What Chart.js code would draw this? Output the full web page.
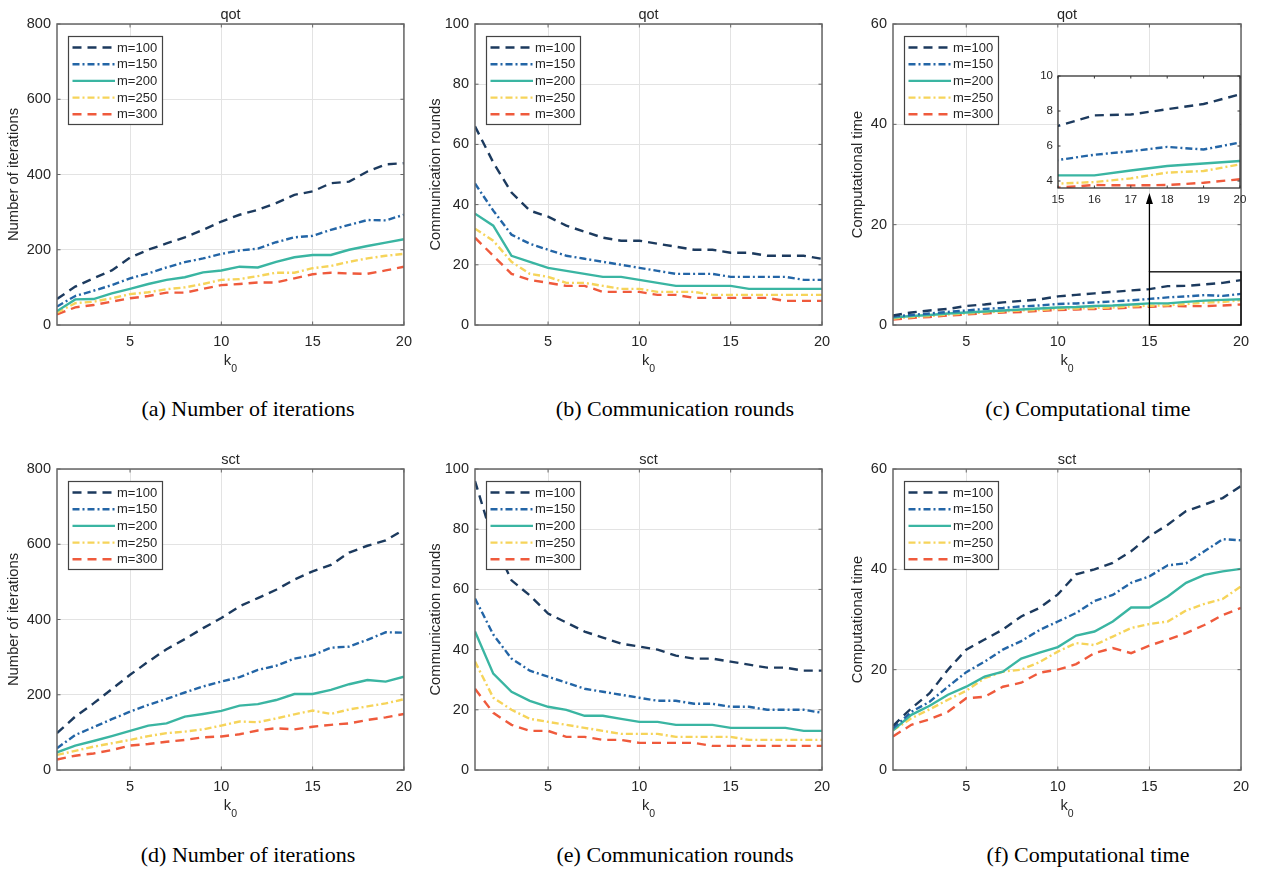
<!DOCTYPE html>
<html lang="en">
<head>
<meta charset="UTF-8" />
<title>k0 sweep: qot / sct</title>
<script src="https://cdn.jsdelivr.net/npm/chart.js"></script>
<style>
  html, body { margin: 0; padding: 0; background: #fff; }
  body { width: 1264px; height: 877px; position: relative; overflow: hidden; }
  .panel { position: absolute; }
  .caption {
    position: absolute;
    font-family: "Liberation Serif", "Times New Roman", serif;
    font-size: 22px;
    line-height: 1;
    color: #000;
    white-space: nowrap;
    transform: translateX(-50%);
  }
</style>
</head>
<body>
<div class="panel" style="left:0;top:0;width:420px;height:380px"><canvas id="pa"></canvas></div>
<div class="panel" style="left:420px;top:0;width:420px;height:380px"><canvas id="pb"></canvas></div>
<div class="panel" style="left:840px;top:0;width:424px;height:380px"><canvas id="pc"></canvas></div>
<div class="panel" style="left:1020px;top:60px;width:240px;height:150px"><canvas id="pcInset"></canvas></div>
<div class="panel" style="left:0;top:445px;width:420px;height:380px"><canvas id="pd"></canvas></div>
<div class="panel" style="left:420px;top:445px;width:420px;height:380px"><canvas id="pe"></canvas></div>
<div class="panel" style="left:840px;top:445px;width:424px;height:380px"><canvas id="pf"></canvas></div>

<div class="caption" style="left:248px;top:398px">(a) Number of iterations</div>
<div class="caption" style="left:675px;top:398px">(b) Communication rounds</div>
<div class="caption" style="left:1088px;top:398px">(c) Computational time</div>
<div class="caption" style="left:248px;top:844px">(d) Number of iterations</div>
<div class="caption" style="left:675px;top:844px">(e) Communication rounds</div>
<div class="caption" style="left:1088px;top:844px">(f) Computational time</div>

<script>
  // ---- data ----
  const k0 = [1, 2, 3, 4, 5, 6, 7, 8, 9, 10, 11, 12, 13, 14, 15, 16, 17, 18, 19, 20];
  const seriesLabels = ["m=100", "m=150", "m=200", "m=250", "m=300"];

  // qot
  const qotIter100 = [69, 102, 124, 145, 179, 200, 217, 233, 253, 275, 293, 306, 324, 346, 355, 377, 381, 408, 427, 430];
  const qotIter150 = [49, 77, 91, 106, 124, 137, 153, 167, 177, 189, 198, 203, 220, 233, 237, 253, 266, 279, 278, 293];
  const qotIter200 = [37, 68, 69, 84, 96, 109, 120, 127, 140, 145, 155, 153, 168, 180, 186, 186, 200, 210, 219, 228];
  const qotIter250 = [33, 58, 62, 71, 82, 87, 95, 100, 109, 120, 122, 130, 139, 139, 151, 157, 168, 177, 184, 189];
  const qotIter300 = [28, 47, 53, 62, 71, 77, 86, 86, 96, 106, 109, 113, 113, 124, 135, 139, 137, 136, 145, 155];

  const qotRound100 = [66, 54, 44, 38, 36, 33, 31, 29, 28, 28, 27, 26, 25, 25, 24, 24, 23, 23, 23, 22];
  const qotRound150 = [47, 38, 30, 27, 25, 23, 22, 21, 20, 19, 18, 17, 17, 17, 16, 16, 16, 16, 15, 15];
  const qotRound200 = [37, 33, 23, 21, 19, 18, 17, 16, 16, 15, 14, 13, 13, 13, 13, 12, 12, 12, 12, 12];
  const qotRound250 = [32, 28, 21, 17, 16, 14, 14, 13, 12, 12, 11, 11, 11, 10, 10, 10, 10, 10, 10, 10];
  const qotRound300 = [29, 23, 17, 15, 14, 13, 13, 11, 11, 11, 10, 10, 9, 9, 9, 9, 9, 8, 8, 8];

  const qotTime100 = [1.9, 2.5, 2.9, 3.2, 3.8, 4.1, 4.5, 4.8, 5.1, 5.7, 6.0, 6.3, 6.6, 6.9, 7.15, 7.75, 7.8, 8.1, 8.4, 8.95];
  const qotTime150 = [1.7, 2.0, 2.3, 2.6, 2.9, 3.2, 3.4, 3.7, 3.9, 4.2, 4.3, 4.5, 4.7, 4.9, 5.2, 5.5, 5.7, 5.95, 5.8, 6.2];
  const qotTime200 = [1.5, 1.8, 2.0, 2.3, 2.5, 2.7, 2.9, 3.1, 3.3, 3.5, 3.6, 3.8, 3.9, 4.1, 4.32, 4.32, 4.6, 4.86, 5.0, 5.14];
  const qotTime250 = [1.3, 1.6, 1.8, 2.1, 2.3, 2.5, 2.7, 2.9, 3.0, 3.2, 3.3, 3.4, 3.5, 3.7, 3.85, 3.94, 4.15, 4.48, 4.57, 4.95];
  const qotTime300 = [1.1, 1.4, 1.6, 1.9, 2.1, 2.3, 2.5, 2.6, 2.8, 3.0, 3.1, 3.2, 3.3, 3.5, 3.62, 3.77, 3.75, 3.77, 3.9, 4.1];

  // sct
  const sctIter100 = [98, 142, 177, 215, 253, 288, 321, 348, 377, 404, 435, 457, 479, 506, 528, 545, 578, 596, 610, 639];
  const sctIter150 = [58, 93, 114, 135, 155, 173, 189, 206, 222, 235, 247, 266, 277, 296, 305, 325, 328, 346, 366, 365];
  const sctIter200 = [47, 65, 77, 90, 104, 118, 124, 142, 149, 157, 171, 175, 186, 202, 202, 213, 228, 239, 235, 248];
  const sctIter250 = [40, 51, 62, 71, 80, 90, 98, 102, 108, 118, 129, 127, 137, 148, 158, 149, 161, 169, 177, 188];
  const sctIter300 = [28, 38, 44, 53, 65, 69, 75, 80, 87, 89, 95, 105, 111, 108, 115, 120, 124, 133, 140, 149];

  const sctRound100 = [96, 76, 63, 58, 52, 49, 46, 44, 42, 41, 40, 38, 37, 37, 36, 35, 34, 34, 33, 33];
  const sctRound150 = [57, 45, 37, 33, 31, 29, 27, 26, 25, 24, 23, 23, 22, 22, 21, 21, 20, 20, 20, 19];
  const sctRound200 = [46, 32, 26, 23, 21, 20, 18, 18, 17, 16, 16, 15, 15, 15, 14, 14, 14, 14, 13, 13];
  const sctRound250 = [36, 24, 20, 17, 16, 15, 14, 13, 12, 12, 12, 11, 11, 11, 11, 10, 10, 10, 10, 10];
  const sctRound300 = [27, 19, 15, 13, 13, 11, 11, 10, 10, 9, 9, 9, 9, 8, 8, 8, 8, 8, 8, 8];

  const sctTime100 = [8.8, 12.3, 15.3, 20, 24, 26, 28, 30.6, 32.3, 35, 39, 40, 41.3, 43.6, 46.6, 48.9, 51.6, 52.9, 54.2, 56.6];
  const sctTime150 = [8.3, 11.6, 13.6, 16.6, 19.5, 21.6, 24, 25.7, 27.9, 29.6, 31.3, 33.7, 34.9, 37.3, 38.6, 40.8, 41.2, 43.6, 46, 45.8];
  const sctTime200 = [7.9, 11, 12.8, 15, 16.6, 18.6, 19.6, 22.2, 23.4, 24.5, 26.8, 27.6, 29.6, 32.4, 32.4, 34.6, 37.3, 38.9, 39.6, 40.1];
  const sctTime250 = [7.9, 10.3, 12.1, 14, 15.8, 18.3, 19.6, 20, 21.5, 23.6, 25.3, 24.9, 26.6, 28.3, 29.1, 29.6, 31.8, 33.1, 34.1, 36.6];
  const sctTime300 = [6.7, 9, 10.1, 11.6, 14.3, 14.6, 16.6, 17.4, 19.4, 20, 21.1, 23.3, 24.3, 23.3, 24.8, 26, 27.3, 28.9, 30.9, 32.3];

  // tick labels
  const xTicks = [5, 10, 15, 20];
  const iterTicks = [0, 200, 400, 600, 800];
  const roundTicks = [0, 20, 40, 60, 80, 100];
  const timeTicks = [0, 20, 40, 60];
  const insetXTicks = [15, 16, 17, 18, 19, 20];
  const insetYTicks = [4, 6, 8, 10];

  // ---- styles ----
  const lineColors = ["#1c3a5e", "#2365a6", "#3ab5a2", "#f6d45a", "#ef5a3c"];
  const lineDashes = [[9, 6], [7, 3, 2, 3], [], [7, 3, 2, 3], [9, 6]];
  const AXIS = "#262626";
  const BOX = "#666";
  const FONT = '"Liberation Sans", Arial, sans-serif';

  Chart.defaults.font.family = FONT;
  Chart.defaults.color = AXIS;

  function line(ctx, x0, y0, x1, y1) {
    ctx.beginPath();
    ctx.moveTo(x0, y0);
    ctx.lineTo(x1, y1);
    ctx.stroke();
  }

  // MATLAB-ish axes: box, inward ticks, legend, title, labels, zoom box
  const matlabAxes = {
    id: "matlabAxes",
    beforeDraw(chart, args, opts) {
      if (!opts.whiteArea) return;
      const a = chart.chartArea, ctx = chart.ctx;
      ctx.save();
      ctx.fillStyle = "#fff";
      ctx.fillRect(a.left, a.top, a.right - a.left, a.bottom - a.top);
      ctx.restore();
    },
    afterDatasetsDraw(chart, args, opts) {
      const ctx = chart.ctx, a = chart.chartArea;
      const xs = chart.scales.x, ys = chart.scales.y;
      ctx.save();
      ctx.setLineDash([]);

      // box
      ctx.strokeStyle = opts.boxColor || BOX;
      ctx.lineWidth = opts.boxWidth || 1.5;
      ctx.strokeRect(a.left, a.top, a.right - a.left, a.bottom - a.top);

      // inward ticks
      const tl = opts.tickLen || 3.5;
      ctx.lineWidth = 1;
      xs.ticks.forEach(t => {
        const px = xs.getPixelForValue(t.value);
        line(ctx, px, a.bottom, px, a.bottom - tl);
        line(ctx, px, a.top, px, a.top + tl);
      });
      ys.ticks.forEach(t => {
        const py = ys.getPixelForValue(t.value);
        line(ctx, a.left, py, a.left + tl, py);
        line(ctx, a.right, py, a.right - tl, py);
      });

      // zoom rectangle + arrow pointing at the inset
      if (opts.zoomBox) {
        const z = opts.zoomBox;
        const x0 = xs.getPixelForValue(z.x0), x1 = xs.getPixelForValue(z.x1);
        const y0 = ys.getPixelForValue(z.y0), y1 = ys.getPixelForValue(z.y1);
        ctx.strokeStyle = "#000";
        ctx.lineWidth = 1.3;
        ctx.strokeRect(x0, y1, x1 - x0, y0 - y1);
        const ax = xs.getPixelForValue(z.arrowX);
        const tip = ys.getPixelForValue(z.arrowTo);
        line(ctx, ax, y1, ax, tip + 9);
        ctx.fillStyle = "#000";
        ctx.beginPath();
        ctx.moveTo(ax, tip);
        ctx.lineTo(ax - 3.5, tip + 11);
        ctx.lineTo(ax + 3.5, tip + 11);
        ctx.closePath();
        ctx.fill();
      }

      // legend
      if (opts.legend) {
        const lx = a.left + 11, ly = a.top + 12;
        ctx.fillStyle = "#fff";
        ctx.fillRect(lx, ly, 94, 88);
        ctx.strokeStyle = "#444";
        ctx.lineWidth = 1.2;
        ctx.strokeRect(lx + 0.5, ly + 0.5, 94, 88);
        ctx.font = "13px " + FONT;
        ctx.textAlign = "left";
        ctx.textBaseline = "middle";
        chart.data.datasets.forEach((ds, i) => {
          const y = ly + 11.5 + i * 16.7;
          ctx.strokeStyle = ds.borderColor;
          ctx.lineWidth = ds.borderWidth;
          ctx.setLineDash(ds.borderDash || []);
          line(ctx, lx + 4.5, y, lx + 47, y);
          ctx.setLineDash([]);
          ctx.fillStyle = AXIS;
          ctx.fillText(ds.label, lx + 49, y + 0.5);
        });
      }

      ctx.fillStyle = AXIS;
      const cx = (a.left + a.right) / 2;
      if (opts.title) {
        ctx.font = "14.5px " + FONT;
        ctx.textAlign = "center";
        ctx.textBaseline = "middle";
        ctx.fillText(opts.title, cx, a.top - 9.5);
      }
      if (opts.ylabel) {
        ctx.save();
        ctx.translate(opts.ylabX, (a.top + a.bottom) / 2);
        ctx.rotate(-Math.PI / 2);
        ctx.font = "14.8px " + FONT;
        ctx.textAlign = "center";
        ctx.textBaseline = "middle";
        ctx.fillText(opts.ylabel, 0, 0);
        ctx.restore();
      }
      if (opts.xlabel) {
        ctx.textBaseline = "alphabetic";
        ctx.textAlign = "left";
        ctx.font = "14.8px " + FONT;
        const kw = ctx.measureText(opts.xlabel[0]).width;
        ctx.font = "10.5px " + FONT;
        const sw = ctx.measureText(opts.xlabel[1]).width;
        const x0 = cx - (kw + sw) / 2;
        ctx.font = "14.8px " + FONT;
        ctx.fillText(opts.xlabel[0], x0, a.bottom + 40);
        ctx.font = "10.5px " + FONT;
        ctx.fillText(opts.xlabel[1], x0 + kw, a.bottom + 47);
      }
      ctx.restore();
    }
  };
  Chart.register(matlabAxes);

  function fixedTicks(list) {
    return scale => { scale.ticks = list.map(v => ({ value: v })); };
  }

  function buildDatasets(series, width) {
    return series.map((vals, i) => ({
      label: seriesLabels[i],
      data: k0.map((k, j) => ({ x: k, y: vals[j] })),
      borderColor: lineColors[i],
      borderDash: lineDashes[i],
      borderWidth: width,
      pointRadius: 0,
      tension: 0,
      fill: false
    }));
  }

  function makePanel(id, p) {
    return new Chart(document.getElementById(id), {
      type: "line",
      data: { datasets: buildDatasets(p.series, 2.4) },
      options: {
        responsive: true,
        maintainAspectRatio: false,
        animation: false,
        layout: { padding: { left: p.padLeft, right: p.padRight, top: 24, bottom: 15 } },
        scales: {
          x: {
            type: "linear", min: 1, max: 20,
            afterBuildTicks: fixedTicks(xTicks),
            afterFit: s => { s.height = 40; },
            ticks: { padding: 8, maxRotation: 0, autoSkip: false, font: { size: 14.5 }, color: AXIS },
            grid: { color: "#e3e3e3", drawTicks: false },
            border: { display: false }
          },
          y: {
            type: "linear", min: p.yTicks[0], max: p.yTicks[p.yTicks.length - 1],
            afterBuildTicks: fixedTicks(p.yTicks),
            afterFit: s => { s.width = 50; },
            ticks: { padding: 6, font: { size: 14.5 }, color: AXIS },
            grid: { color: "#e3e3e3", drawTicks: false },
            border: { display: false }
          }
        },
        plugins: {
          legend: { display: false },
          tooltip: { enabled: false },
          matlabAxes: {
            legend: true,
            title: p.title,
            ylabel: p.ylabel,
            ylabX: p.ylabX,
            xlabel: ["k", "0"],
            zoomBox: p.zoomBox || null
          }
        }
      }
    });
  }

  makePanel("pa", { series: [qotIter100, qotIter150, qotIter200, qotIter250, qotIter300],
    yTicks: iterTicks, title: "qot", ylabel: "Number of iterations", ylabX: 14, padLeft: 7, padRight: 16 });
  makePanel("pb", { series: [qotRound100, qotRound150, qotRound200, qotRound250, qotRound300],
    yTicks: roundTicks, title: "qot", ylabel: "Communication rounds", ylabX: 16, padLeft: 5, padRight: 18 });
  makePanel("pc", { series: [qotTime100, qotTime150, qotTime200, qotTime250, qotTime300],
    yTicks: timeTicks, title: "qot", ylabel: "Computational time", ylabX: 18, padLeft: 3, padRight: 23,
    zoomBox: { x0: 15, x1: 20, y0: 0, y1: 10.6, arrowX: 15, arrowTo: 26.3 } });
  makePanel("pd", { series: [sctIter100, sctIter150, sctIter200, sctIter250, sctIter300],
    yTicks: iterTicks, title: "sct", ylabel: "Number of iterations", ylabX: 14, padLeft: 7, padRight: 16 });
  makePanel("pe", { series: [sctRound100, sctRound150, sctRound200, sctRound250, sctRound300],
    yTicks: roundTicks, title: "sct", ylabel: "Communication rounds", ylabX: 16, padLeft: 5, padRight: 18 });
  makePanel("pf", { series: [sctTime100, sctTime150, sctTime200, sctTime250, sctTime300],
    yTicks: timeTicks, title: "sct", ylabel: "Computational time", ylabX: 18, padLeft: 3, padRight: 23 });

  // inset of (c): same qot time series, zoomed to k0 = 15..20
  new Chart(document.getElementById("pcInset"), {
    type: "line",
    data: { datasets: buildDatasets([qotTime100, qotTime150, qotTime200, qotTime250, qotTime300], 2.4) },
    options: {
      responsive: true,
      maintainAspectRatio: false,
      animation: false,
      layout: { padding: { left: 8, right: 20, top: 16, bottom: 2 } },
      scales: {
        x: {
          type: "linear", min: 15, max: 20,
          afterBuildTicks: fixedTicks(insetXTicks),
          afterFit: s => { s.height = 20; },
          ticks: { padding: 5, maxRotation: 0, autoSkip: false, font: { size: 11.5 }, color: AXIS },
          grid: { display: false, drawTicks: false },
          border: { display: false }
        },
        y: {
          type: "linear", min: 3.6, max: 10,
          afterBuildTicks: fixedTicks(insetYTicks),
          afterFit: s => { s.width = 30; },
          ticks: { padding: 5, font: { size: 11.5 }, color: AXIS },
          grid: { display: false, drawTicks: false },
          border: { display: false }
        }
      },
      plugins: {
        legend: { display: false },
        tooltip: { enabled: false },
        matlabAxes: { whiteArea: true, tickLen: 2.5, boxColor: "#333", boxWidth: 1.3 }
      }
    }
  });
</script>
</body>
</html>
